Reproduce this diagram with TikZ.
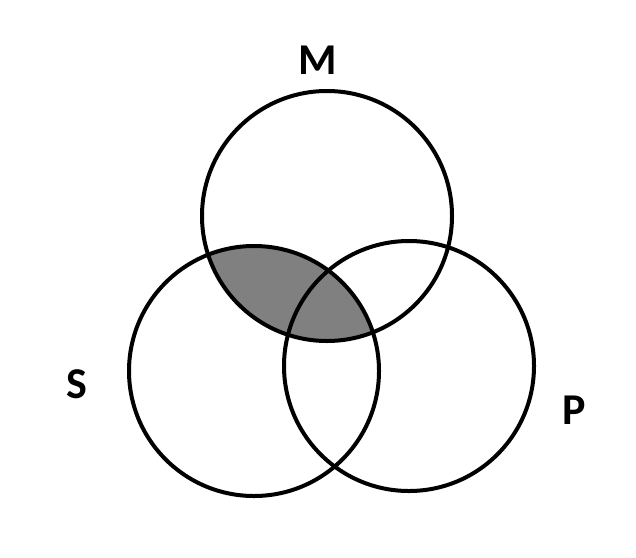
\documentclass[tikz,border=0pt]{standalone}
\usepackage{fontspec}
\setmainfont{Carlito}
\tikzset{
  set circle/.style={
    draw=black,
    line width=4pt,
    circle,
    minimum size={2*#1pt},
    inner sep=0pt,
  },
  set label/.style={
    font=\bfseries\fontsize{44}{44}\selectfont,
    inner sep=0pt,
  }
}
\begin{document}
\begin{tikzpicture}[x=1pt,y=-1pt]
        \useasboundingbox (0,0) rectangle (636,557);
        % shaded part M and S
        \begin{scope}
          \clip (327,216) circle (125);
          \fill [black!50] (254,371) circle (125);
        \end{scope}

        \node [set circle=125] (m) at (327,216) {};
        \node [set circle=125] (s) at (254,371) {};
        \node [set circle=125] (p) at (409,366) {};

        \node [set label] (lm) at (318,60) {M};
        \node [set label] (ls) at (77,384) {S};
        \node [set label] (lp) at (574,410) {P};
    \end{tikzpicture}
\end{document}
